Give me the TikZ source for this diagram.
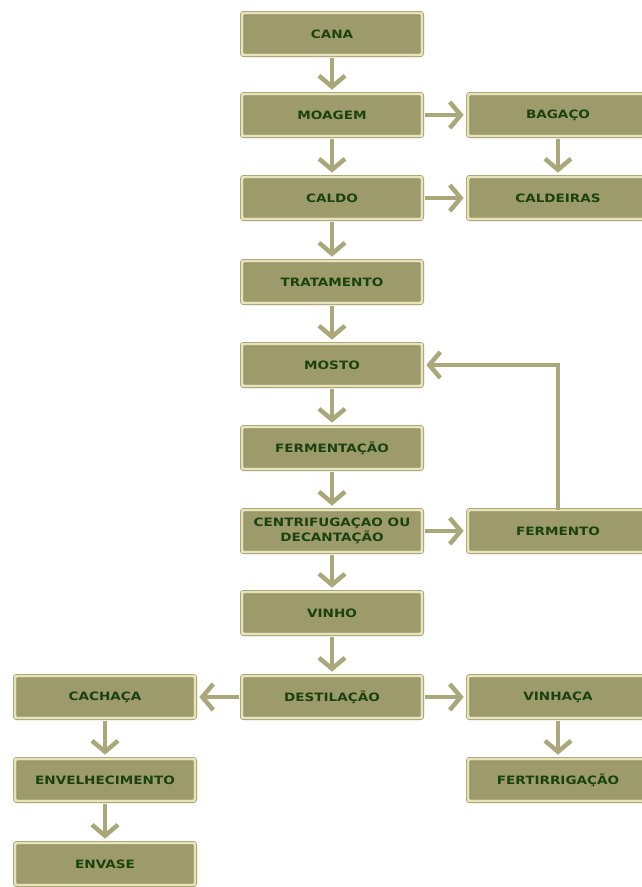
\documentclass[tikz,border=0pt]{standalone}
\usepackage{fontspec}
\newfontfamily\stagefont{DejaVu Sans Bold}[FakeStretch=1.18]
\usetikzlibrary{arrows.meta, positioning}
\definecolor{boxolive}{RGB}{157,155,107}
\definecolor{boxcream}{RGB}{232,228,186}
\definecolor{boxedge}{RGB}{140,138,92}
\definecolor{textgreen}{RGB}{26,66,14}
\definecolor{arrowolive}{RGB}{170,168,122}

\begin{document}
\begin{tikzpicture}[x=1pt, y=-1pt,
    stage/.style={rectangle, draw=boxedge, double=boxcream, double distance=2.8pt, line width=0.6pt, fill=boxolive, rounded corners=2pt, minimum width=180pt, minimum height=42pt, font=\stagefont\fontsize{11.5}{15}\selectfont, text=textgreen, align=center},
    flow/.style={-{Straight Barb[length=11pt, width=26pt]}, line width=4.5pt, arrowolive, shorten >=4pt, shorten <=3pt}
]
\useasboundingbox (0,0) rectangle (642,887);
\clip (0,0) rectangle (642,887);

% main column
\node[stage] (cana) at (332,34) {CANA};
\node[stage] (moagem) at (332,115) {MOAGEM};
\node[stage] (caldo) at (332,198) {CALDO};
\node[stage] (tratamento) at (332,282) {TRATAMENTO};
\node[stage] (mosto) at (332,365) {MOSTO};
\node[stage] (fermentacao) at (332,448) {FERMENTAÇÃO};
\node[stage] (centrif) at (332,531) {CENTRIFUGAÇAO OU\\DECANTAÇÃO};
\node[stage] (vinho) at (332,613) {VINHO};
\node[stage] (destilacao) at (332,697) {DESTILAÇÃO};

% right column
\node[stage] (bagaco) at (558,115) {BAGAÇO};
\node[stage] (caldeiras) at (558,198) {CALDEIRAS};
\node[stage] (fermento) at (558,531) {FERMENTO};
\node[stage] (vinhaca) at (558,697) {VINHAÇA};
\node[stage] (fertirrig) at (558,780) {FERTIRRIGAÇÃO};

% left column
\node[stage] (cachaca) at (105,697) {CACHAÇA};
\node[stage] (envelhec) at (105,780) {ENVELHECIMENTO};
\node[stage] (envase) at (105,864) {ENVASE};

\draw[flow] (cana) -- (moagem);
\draw[flow] (moagem) -- (caldo);
\draw[flow] (caldo) -- (tratamento);
\draw[flow] (tratamento) -- (mosto);
\draw[flow] (mosto) -- (fermentacao);
\draw[flow] (fermentacao) -- (centrif);
\draw[flow] (centrif) -- (vinho);
\draw[flow] (vinho) -- (destilacao);

\draw[flow] (moagem) -- (bagaco);
\draw[flow] (bagaco) -- (caldeiras);
\draw[flow] (caldo) -- (caldeiras);
\draw[flow] (centrif) -- (fermento);
\draw[flow, shorten <=0pt] (fermento.north) |- (mosto.east);
\draw[flow] (destilacao) -- (vinhaca);
\draw[flow] (vinhaca) -- (fertirrig);
\draw[flow] (destilacao) -- (cachaca);
\draw[flow] (cachaca) -- (envelhec);
\draw[flow] (envelhec) -- (envase);
\end{tikzpicture}
\end{document}
